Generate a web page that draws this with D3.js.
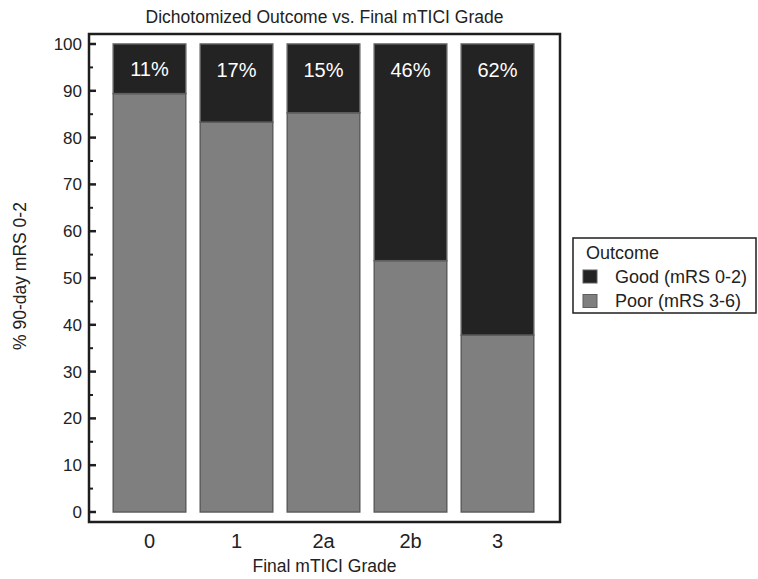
<!DOCTYPE html>
<html>
<head>
<meta charset="utf-8">
<script src="https://cdn.jsdelivr.net/npm/d3@7"></script>
<style>
  body { margin: 0; background: #fff; }
  svg { font-family: "Liberation Sans", Arial, sans-serif; }
</style>
</head>
<body>
<svg id="chart" width="758" height="579"></svg>
<script>
// data
var grades = ["0", "1", "2a", "2b", "3"];
var goodPct = [10.6, 16.7, 14.7, 46.3, 62.2];
var poorPct = [89.4, 83.3, 85.3, 53.7, 37.8];
var goodLabels = ["11%", "17%", "15%", "46%", "62%"];
var yTicks = [0, 10, 20, 30, 40, 50, 60, 70, 80, 90, 100];
var legendNames = ["Good (mRS 0-2)", "Poor (mRS 3-6)"];

var darkCol = "#232323",
  grayCol = "#7f7f7f",
  barStroke = "#5e5e5e";

var svg = d3.select("#chart");

var plotLeft = 89, plotRight = 560, plotTop = 34, plotBottom = 522;

var xScale = d3.scaleBand()
  .domain(grades)
  .range([106, 541])
  .paddingInner(0.166)
  .paddingOuter(0.083);

var yScale = d3.scaleLinear()
  .domain([0, 100])
  .range([512, 44]);

// frame
svg.append("rect")
  .attr("x", plotLeft)
  .attr("y", plotTop)
  .attr("width", plotRight - plotLeft)
  .attr("height", plotBottom - plotTop)
  .attr("fill", "none")
  .attr("stroke", "#1e1e1e")
  .attr("stroke-width", 2.5);

// bars - poor (bottom) then good (top)
var bars = svg.append("g");
bars.selectAll("rect.poor")
  .data(grades)
  .enter()
  .append("rect")
  .attr("class", "poor")
  .attr("x", function (d) { return xScale(d); })
  .attr("y", function (d, i) { return yScale(poorPct[i]); })
  .attr("width", xScale.bandwidth())
  .attr("height", function (d, i) { return yScale(0) - yScale(poorPct[i]); })
  .attr("fill", grayCol)
  .attr("stroke", barStroke)
  .attr("stroke-width", 1.5);

bars.selectAll("rect.good")
  .data(grades)
  .enter()
  .append("rect")
  .attr("class", "good")
  .attr("x", function (d) { return xScale(d); })
  .attr("y", function (d, i) { return yScale(poorPct[i] + goodPct[i]); })
  .attr("width", xScale.bandwidth())
  .attr("height", function (d, i) { return yScale(poorPct[i]) - yScale(poorPct[i] + goodPct[i]); })
  .attr("fill", darkCol)
  .attr("stroke", barStroke)
  .attr("stroke-width", 1.5);

// percent labels inside dark segment
bars.selectAll("text.pct")
  .data(grades)
  .enter()
  .append("text")
  .attr("class", "pct")
  .attr("x", function (d) { return xScale(d) + xScale.bandwidth() / 2; })
  .attr("y", function (d, i) {
    var mid = poorPct[i] + goodPct[i] / 2;
    return yScale(Math.max(mid, 94.4));
  })
  .attr("dy", "0.35em")
  .attr("text-anchor", "middle")
  .attr("fill", "#fff")
  .style("font-size", "20px")
  .text(function (d, i) { return goodLabels[i]; });

// y axis ticks (inside)
var yAxis = svg.append("g");
yAxis.selectAll("line.major")
  .data(yTicks)
  .enter()
  .append("line")
  .attr("x1", plotLeft)
  .attr("x2", plotLeft + 7)
  .attr("y1", function (d) { return yScale(d); })
  .attr("y2", function (d) { return yScale(d); })
  .attr("stroke", "#1e1e1e")
  .attr("stroke-width", 2.5);

yAxis.selectAll("line.minor")
  .data(yTicks.slice(0, -1))
  .enter()
  .append("line")
  .attr("x1", plotLeft)
  .attr("x2", plotLeft + 4)
  .attr("y1", function (d) { return yScale(d + 5); })
  .attr("y2", function (d) { return yScale(d + 5); })
  .attr("stroke", "#1e1e1e")
  .attr("stroke-width", 2);

yAxis.selectAll("text")
  .data(yTicks)
  .enter()
  .append("text")
  .attr("x", plotLeft - 7)
  .attr("y", function (d) { return yScale(d); })
  .attr("dy", "0.35em")
  .attr("text-anchor", "end")
  .attr("fill", "#222")
  .style("font-size", "17px")
  .text(function (d) { return d; });

// x tick labels
svg.append("g").selectAll("text")
  .data(grades)
  .enter()
  .append("text")
  .attr("x", function (d) { return xScale(d) + xScale.bandwidth() / 2; })
  .attr("y", 548)
  .attr("text-anchor", "middle")
  .attr("fill", "#222")
  .style("font-size", "20px")
  .text(function (d) { return d; });

// title
svg.append("text")
  .attr("x", (plotLeft + plotRight) / 2)
  .attr("y", 23)
  .attr("text-anchor", "middle")
  .attr("fill", "#222")
  .style("font-size", "17.5px")
  .text("Dichotomized Outcome vs. Final mTICI Grade");

// x label
svg.append("text")
  .attr("x", (plotLeft + plotRight) / 2)
  .attr("y", 572)
  .attr("text-anchor", "middle")
  .attr("fill", "#222")
  .style("font-size", "17.5px")
  .text("Final mTICI Grade");

// y label
svg.append("text")
  .attr("transform", "translate(26,276)rotate(-90)")
  .attr("text-anchor", "middle")
  .attr("fill", "#222")
  .style("font-size", "17.5px")
  .text("% 90-day mRS 0-2");

// legend
var legend = svg.append("g");
legend.append("rect")
  .attr("x", 573)
  .attr("y", 238)
  .attr("width", 183)
  .attr("height", 75)
  .attr("fill", "#fff")
  .attr("stroke", "#1e1e1e")
  .attr("stroke-width", 1.5);

legend.append("text")
  .attr("x", 586)
  .attr("y", 259)
  .attr("fill", "#222")
  .style("font-size", "18px")
  .text("Outcome");

var legendCols = [darkCol, grayCol];
legend.selectAll("rect.sw")
  .data(legendNames)
  .enter()
  .append("rect")
  .attr("class", "sw")
  .attr("x", 583)
  .attr("y", function (d, i) { return 270 + i * 24.5; })
  .attr("width", 14)
  .attr("height", 13)
  .attr("fill", function (d, i) { return legendCols[i]; })
  .attr("stroke", barStroke)
  .attr("stroke-width", 1);

legend.selectAll("text.lt")
  .data(legendNames)
  .enter()
  .append("text")
  .attr("class", "lt")
  .attr("x", 615)
  .attr("y", function (d, i) { return 283 + i * 24; })
  .attr("fill", "#222")
  .style("font-size", "18px")
  .text(function (d) { return d; });
</script>
</body>
</html>
